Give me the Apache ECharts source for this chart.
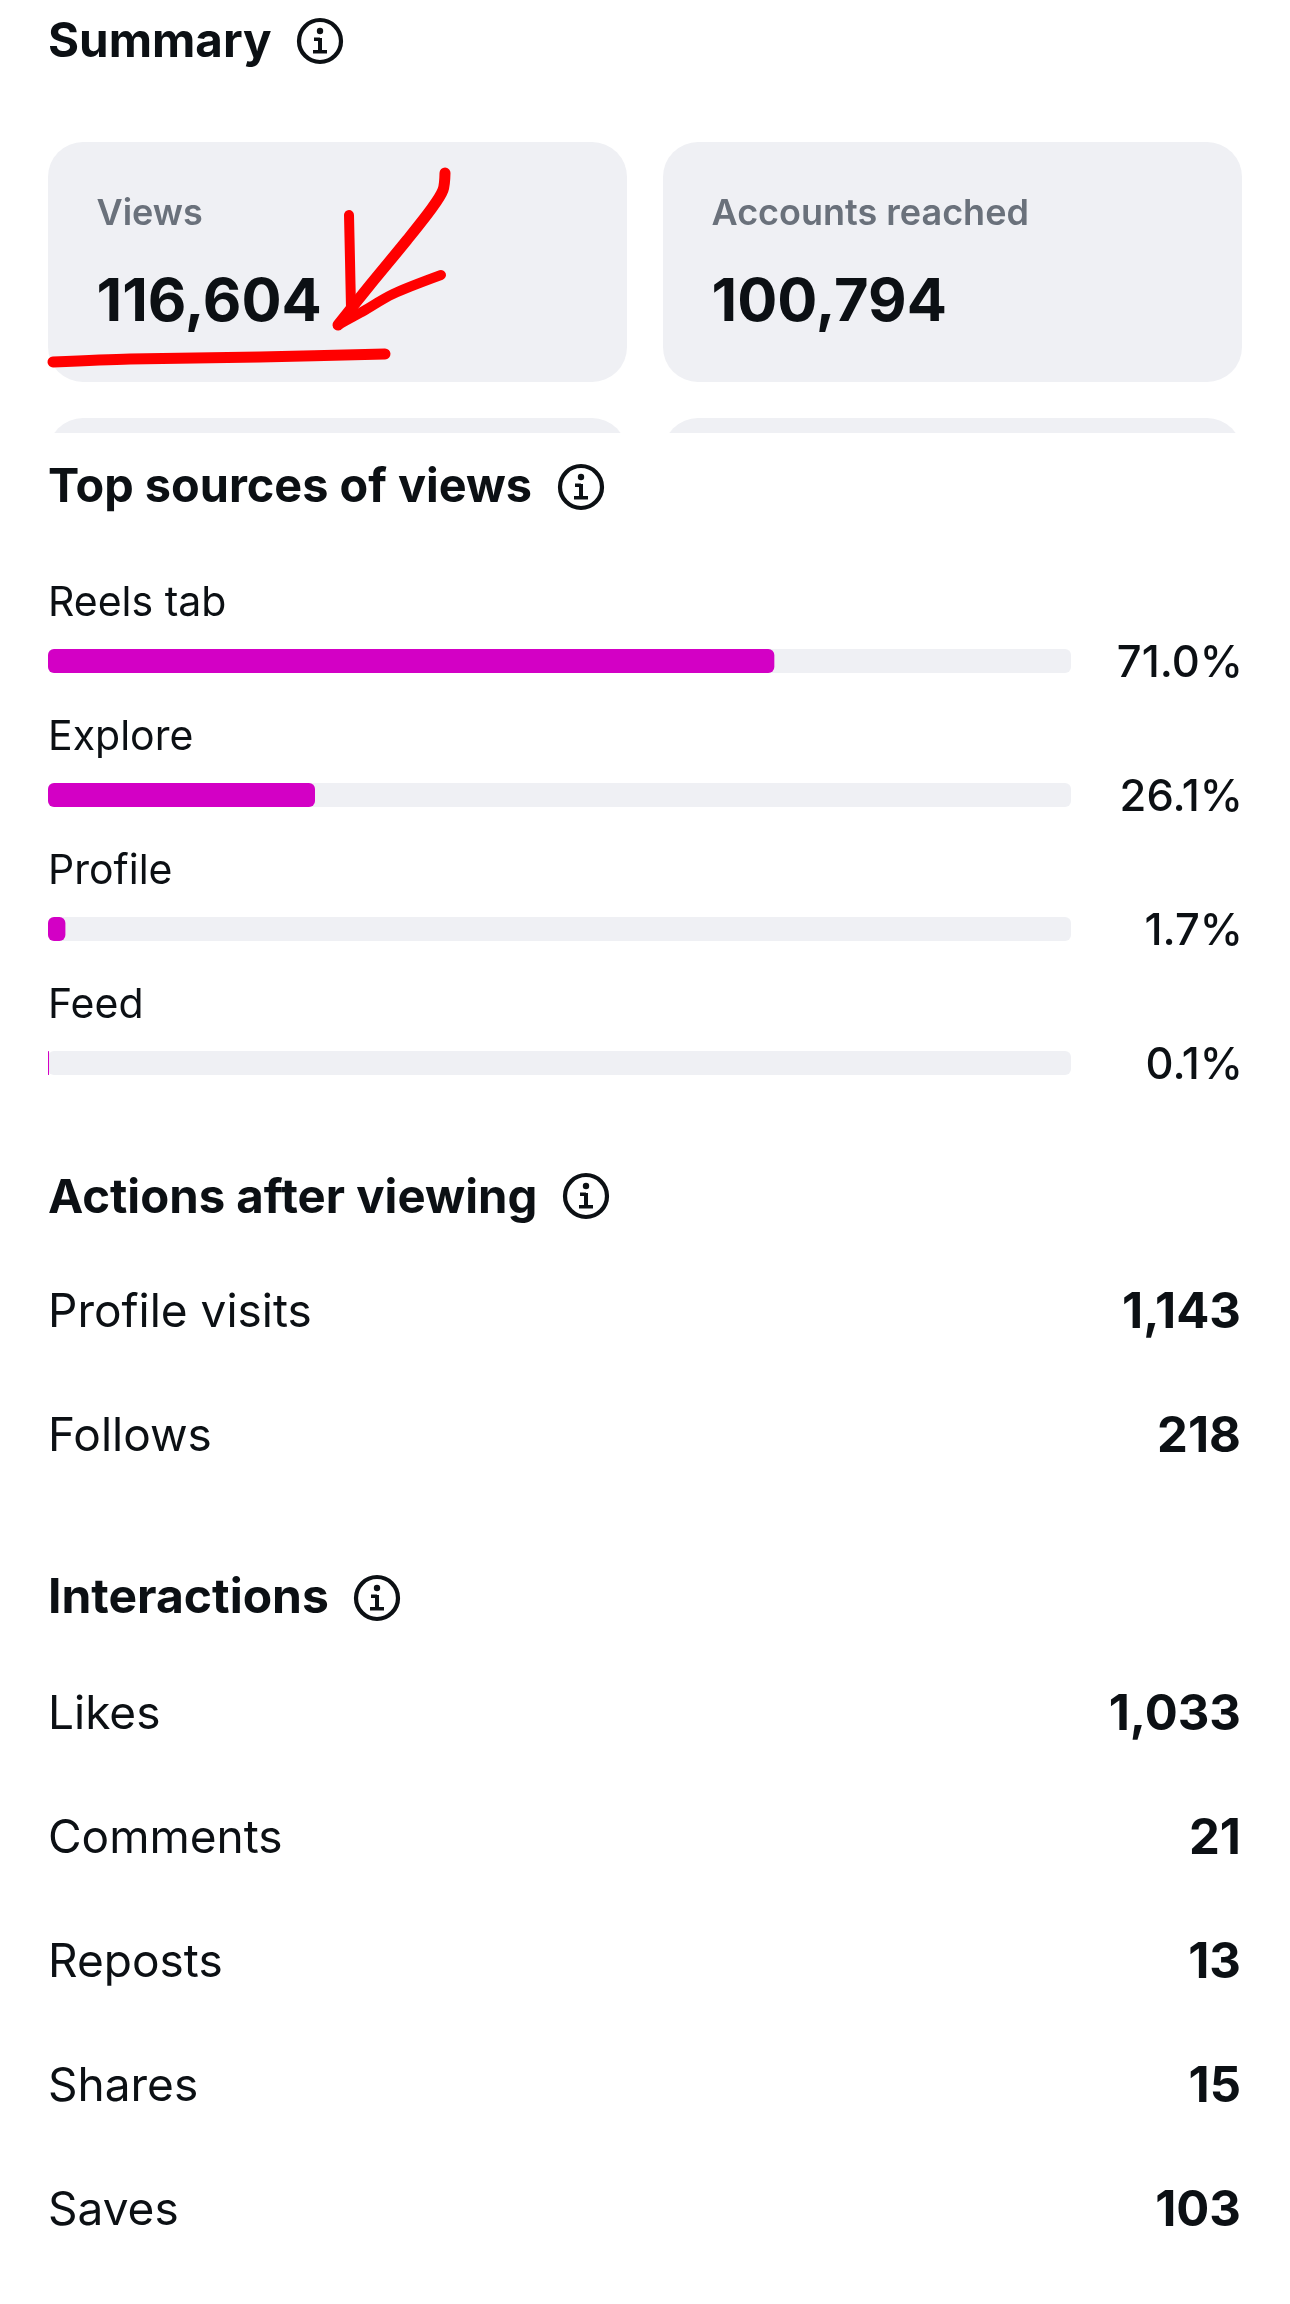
<!DOCTYPE html>
<html><head><meta charset="utf-8">
<style>html,body{margin:0;padding:0;background:#fff}#c{width:1290px;height:2304px}</style>
<script src="https://cdn.jsdelivr.net/npm/echarts@6/dist/echarts.min.js"></script>
</head><body><div id="c"></div>
<script>
const sourceNames = ['Reels tab','Explore','Profile','Feed'];
const sourceShares = [71.0,26.1,1.7,0.1];
const summaryNames = ['Views','Accounts reached'];
const summaryValues = ['116,604','100,794'];
const actionNames = ['Profile visits','Follows'];
const actionValues = ['1,143','218'];
const interactionNames = ['Likes','Comments','Reposts','Shares','Saves'];
const interactionValues = ['1,033','21','13','15','103'];

const INK='#0C1014', GREY='#EFF0F4', MUTED='#6A717B', MAG='#D300C5', F='Inter';
const g=[];
function text(s,x,y,size,weight,color,align){
  g.push({type:'text',z:5,style:{text:s,x:x,y:y,fill:color||INK,font:(weight||400)+' '+size+'px '+F,textAlign:align||'left',textVerticalAlign:'middle'}});
}
function icon(cx,cy){
  g.push({type:'circle',z:5,shape:{cx:cx,cy:cy,r:21},style:{fill:'none',stroke:INK,lineWidth:4.2}});
  g.push({type:'circle',z:5,shape:{cx:cx,cy:cy-10,r:3.2},style:{fill:INK}});
  g.push({type:'rect',z:5,shape:{x:cx-2,y:cy-3,width:4,height:14},style:{fill:INK}});
  g.push({type:'rect',z:5,shape:{x:cx-6,y:cy-3.5,width:6,height:3.5},style:{fill:INK}});
  g.push({type:'rect',z:5,shape:{x:cx-7,y:cy+9,width:14,height:3.5},style:{fill:INK}});
}
function heading(s,y,ix,iy,size){ text(s,48,y,size,700); icon(ix,iy); }
function stroke(points,w,smooth){
  g.push({type:'polyline',z:9,shape:{points:points,smooth:smooth||0.4},style:{fill:'none',stroke:'#FF0000',lineWidth:w,lineCap:'round',lineJoin:'round'}});
}

heading('Summary',43,320,41,47.5);
[48,663].forEach((x,i)=>{
  g.push({type:'rect',z:1,shape:{x:x,y:142,width:579,height:240,r:35},style:{fill:GREY}});
  g.push({type:'rect',z:1,shape:{x:x,y:418,width:579,height:120,r:35},style:{fill:GREY}});
  text(summaryNames[i],x+48.5,214,36,600,MUTED);
  text(summaryValues[i],x+48.5,303,59.5,700);
});
g.push({type:'rect',z:2,shape:{x:0,y:433,width:1290,height:120},style:{fill:'#fff'}});

heading('Top sources of views',488,581,487,46.8);
heading('Actions after viewing',1199,586,1196,47.3);
actionNames.forEach((n,i)=>{ const y=1313+i*124; text(n,48,y,46,400); text(actionValues[i],1241,y,49,700,INK,'right'); });
heading('Interactions',1599,377,1598,48);
interactionNames.forEach((n,i)=>{ const y=1715.5+i*124; text(n,48,y,46,400); text(interactionValues[i],1241,y,49,700,INK,'right'); });

stroke([[53,362],[130,359],[260,357],[385,354]],11,0.3);
stroke([[445,173],[443,190],[432,208],[407,240],[370,285],[338,325]],11,0.3);
stroke([[349,215],[350,260],[351,308]],10,0.1);
stroke([[441,275],[393,294],[360,313],[338,325]],10,0.3);

const chart=echarts.init(document.getElementById('c'));
chart.setOption({
  backgroundColor:'#fff',
  animation:false,
  graphic:{elements:g},
  grid:{left:48,top:594,width:1023,height:536},
  xAxis:{type:'value',min:0,max:100,show:false},
  yAxis:[
    {type:'category',inverse:true,data:sourceNames,position:'left',
     axisLine:{show:false},axisTick:{show:false},
     axisLabel:{inside:true,margin:0,interval:0,align:'left',
       formatter:s=>'{t|'+s+'}\n{s| }',
       rich:{t:{color:INK,fontFamily:F,fontSize:41,fontWeight:400,lineHeight:50},s:{fontSize:10,lineHeight:115}}}},
    {type:'category',inverse:true,data:sourceShares.map(v=>v.toFixed(1)+'%'),position:'right',
     axisLine:{show:false},axisTick:{show:false},
     axisLabel:{margin:172,interval:0,align:'right',
       formatter:s=>'{s| }\n{t|'+s+'}',
       rich:{t:{color:INK,fontFamily:F,fontSize:43.5,fontWeight:500,lineHeight:50,align:'right'},s:{fontSize:4,lineHeight:5}}}}
  ],
  series:[{type:'bar',data:sourceShares,barWidth:24,yAxisIndex:0,
    showBackground:true,backgroundStyle:{color:GREY,borderRadius:6},
    itemStyle:{color:MAG,borderRadius:6}}]
});
</script></body></html>
